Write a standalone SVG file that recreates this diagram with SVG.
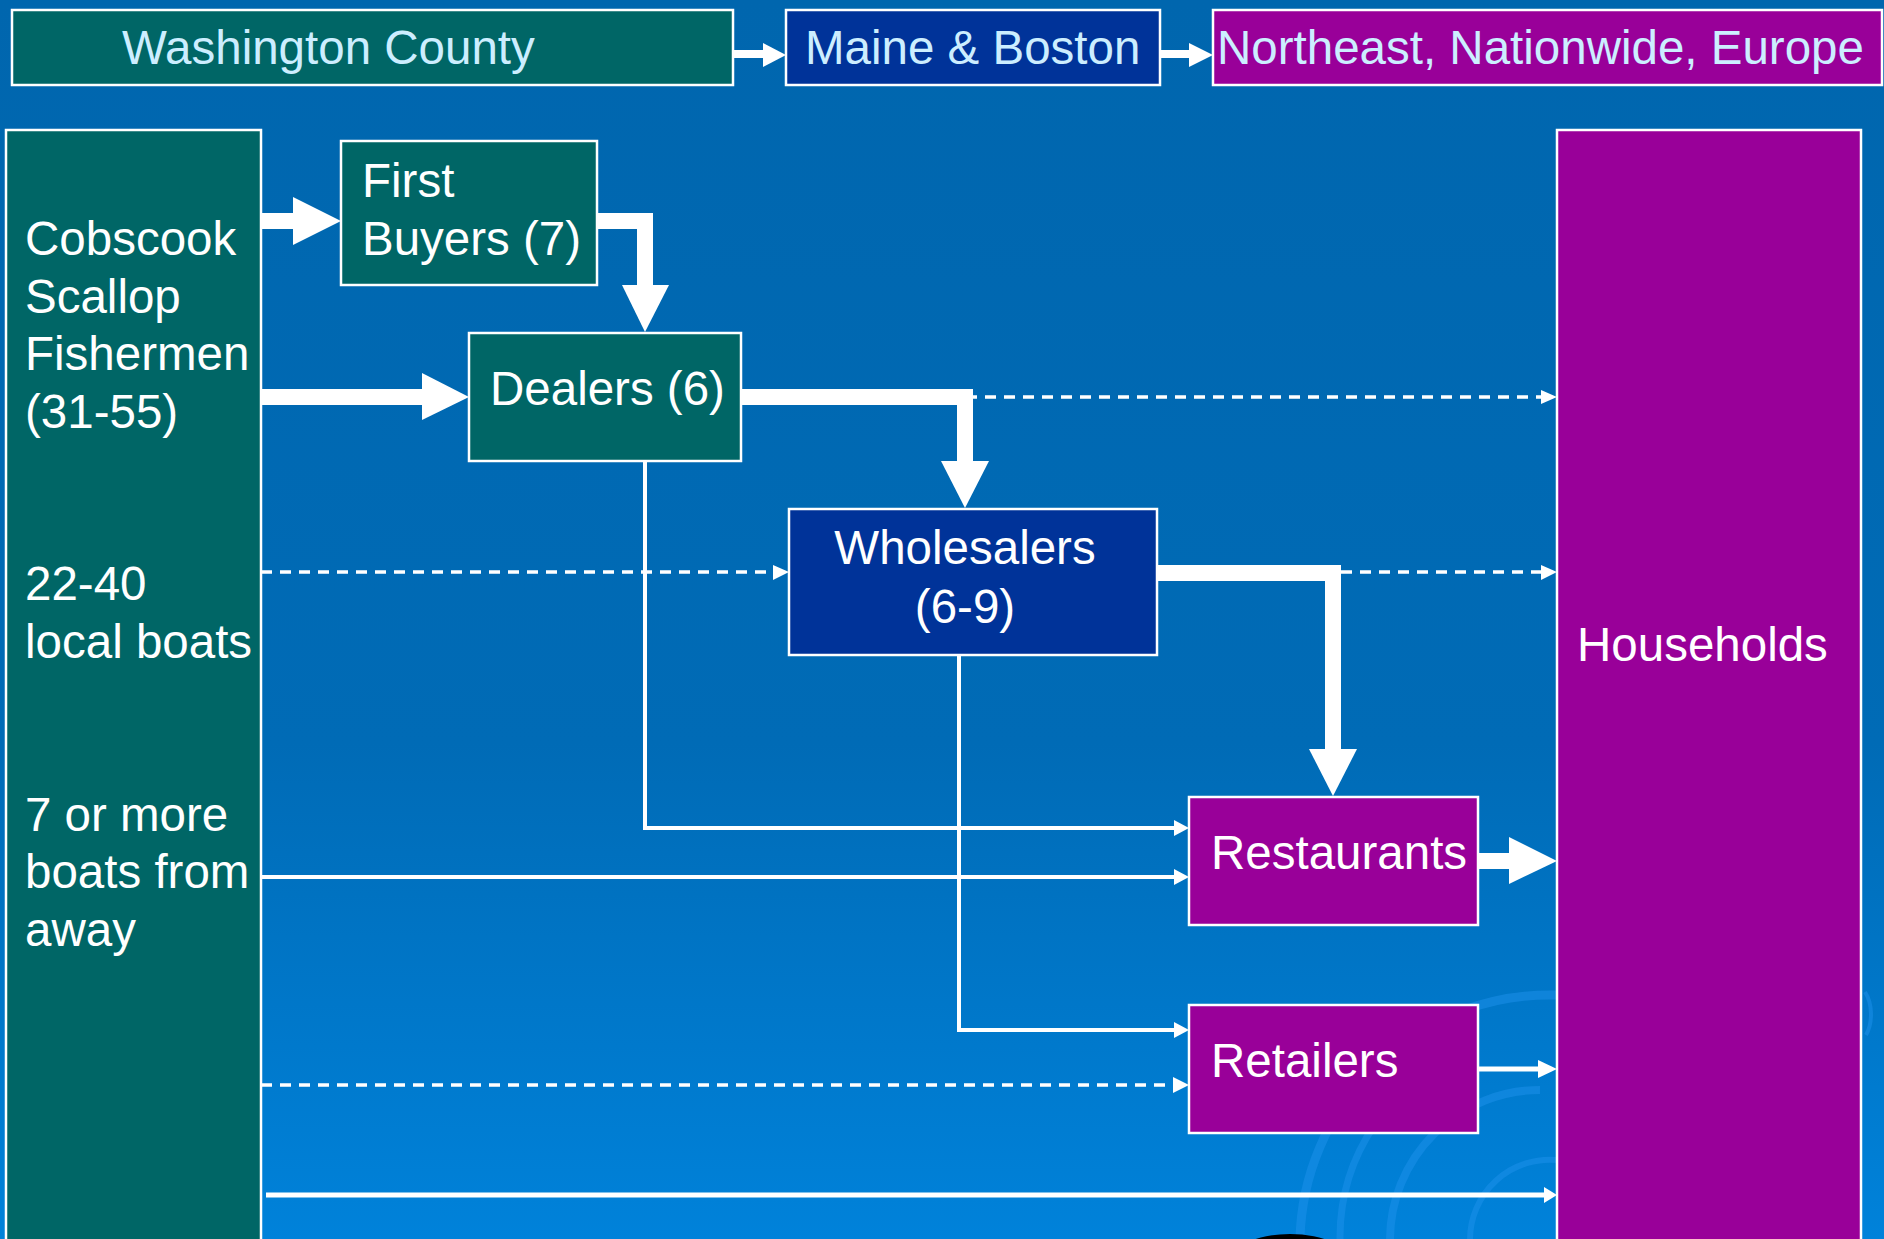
<svg xmlns="http://www.w3.org/2000/svg" width="1884" height="1239" viewBox="0 0 1884 1239">
<defs>
<linearGradient id="bg" x1="0" y1="0" x2="0" y2="1">
<stop offset="0" stop-color="#0066AE"/>
<stop offset="0.6" stop-color="#006BB6"/>
<stop offset="1" stop-color="#0082DA"/>
</linearGradient>
<style>
.box{stroke:#FFFFFF;stroke-width:2.5}
.teal{fill:#006666}
.navy{fill:#003399}
.purple{fill:#990099}
.t{font-family:"Liberation Sans",Arial,sans-serif;font-size:47.5px;fill:#FFFFFF}
.tl{font-family:"Liberation Sans",Arial,sans-serif;font-size:47.5px;fill:#CCEEFF}
.thick{fill:none;stroke:#FFFFFF;stroke-width:16;stroke-linejoin:miter}
.thin{fill:none;stroke:#FFFFFF;stroke-width:4}
.dash{fill:none;stroke:#FFFFFF;stroke-width:3.5;stroke-dasharray:11 8}
.head{fill:#FFFFFF}
.swirl{fill:none;stroke:#1E92EC;stroke-opacity:0.5}
</style>
</defs>
<rect x="0" y="0" width="1884" height="1239" fill="url(#bg)"/>
<g id="background-decor">
<path class="swirl" stroke-width="8" d="M1390 1239 A150 150 0 0 1 1540 1090"/>
<path class="swirl" stroke-width="7" d="M1340 1239 A200 200 0 0 1 1470 1050"/>
<path class="swirl" stroke-width="9" d="M1300 1239 A250 250 0 0 1 1557 995"/>
<path class="swirl" stroke-width="6" d="M1470 1239 A80 80 0 0 1 1557 1160"/>
<path class="swirl" stroke-width="4" d="M1865 992 A18 30 0 0 1 1866 1035"/>
<ellipse cx="1290" cy="1264" rx="62" ry="30" fill="#000000"/>
</g>
<g id="node-washington-county">
<rect class="box teal" x="12" y="10" width="721" height="75"/>
<text class="tl" x="122" y="64">Washington County</text>
</g>
<g id="node-maine-boston">
<rect class="box navy" x="786" y="10" width="374" height="75"/>
<text class="tl" x="805" y="64">Maine &amp; Boston</text>
</g>
<g id="node-northeast">
<rect class="box purple" x="1213" y="10" width="669" height="75"/>
<text class="tl" x="1217" y="64">Northeast, Nationwide, Europe</text>
</g>
<g id="node-fishermen">
<rect class="box teal" x="6" y="130" width="255" height="1120"/>
<text class="t" x="25" y="255">Cobscook</text>
<text class="t" x="25" y="313">Scallop</text>
<text class="t" x="25" y="370">Fishermen</text>
<text class="t" x="25" y="428">(31-55)</text>
<text class="t" x="25" y="600">22-40</text>
<text class="t" x="25" y="658">local boats</text>
<text class="t" x="25" y="831">7 or more</text>
<text class="t" x="25" y="888">boats from</text>
<text class="t" x="25" y="946">away</text>
</g>
<g id="node-first-buyers">
<rect class="box teal" x="341" y="141" width="256" height="144"/>
<text class="t" x="362" y="197">First</text>
<text class="t" x="362" y="255">Buyers (7)</text>
</g>
<g id="node-dealers">
<rect class="box teal" x="469" y="333" width="272" height="128"/>
<text class="t" x="490" y="405">Dealers (6)</text>
</g>
<g id="node-wholesalers">
<rect class="box navy" x="789" y="509" width="368" height="146"/>
<text class="t" x="965" y="564" text-anchor="middle">Wholesalers</text>
<text class="t" x="965" y="623" text-anchor="middle">(6-9)</text>
</g>
<g id="node-restaurants">
<rect class="box purple" x="1189" y="797" width="289" height="128"/>
<text class="t" x="1211" y="869">Restaurants</text>
</g>
<g id="node-retailers">
<rect class="box purple" x="1189" y="1005" width="289" height="128"/>
<text class="t" x="1211" y="1077">Retailers</text>
</g>
<g id="node-households">
<rect class="box purple" x="1557" y="130" width="304" height="1120"/>
<text class="t" x="1577" y="661">Households</text>
</g>
<g id="connectors">
<path d="M733 54 H765" fill="none" stroke="#FFFFFF" stroke-width="8"/>
<polygon class="head" points="763,43 786,55 763,67"/>
<path d="M1160 54 H1191" fill="none" stroke="#FFFFFF" stroke-width="8"/>
<polygon class="head" points="1189,43 1213,55 1189,67"/>
<path class="thick" d="M261 221 H295"/>
<polygon class="head" points="293,197 341,221 293,245"/>
<path class="thick" d="M597 221 H645 V287"/>
<polygon class="head" points="622,285 645,332 669,285"/>
<path class="thick" d="M261 397 H424"/>
<polygon class="head" points="422,373 469,397 422,420"/>
<path class="thick" d="M741 397 H965 V463"/>
<polygon class="head" points="941,461 965,508 989,461"/>
<path class="thick" d="M1157 573 H1333 V751"/>
<polygon class="head" points="1309,749 1333,796 1357,749"/>
<path class="thick" d="M1478 861 H1511"/>
<polygon class="head" points="1509,837 1557,861 1509,884"/>
<path class="thin" d="M645 461 V828 H1176"/>
<polygon class="head" points="1174,820 1189,828 1174,836"/>
<path class="thin" d="M261 877 H1176"/>
<polygon class="head" points="1174,869 1189,877 1174,885"/>
<path class="thin" d="M959 655 V1030 H1176"/>
<polygon class="head" points="1174,1022 1189,1030 1174,1038"/>
<path d="M1478 1069 H1540" fill="none" stroke="#FFFFFF" stroke-width="5"/>
<polygon class="head" points="1538,1060 1557,1069 1538,1078"/>
<path d="M266 1195 H1546" fill="none" stroke="#FFFFFF" stroke-width="5"/>
<polygon class="head" points="1544,1187 1557,1195 1544,1203"/>
<path class="dash" d="M261 572 H775"/>
<polygon class="head" points="773,565 789,572 773,580"/>
<path class="dash" d="M966 397 H1543"/>
<polygon class="head" points="1541,390 1557,397 1541,404"/>
<path class="dash" d="M1341 572 H1543"/>
<polygon class="head" points="1541,565 1557,572 1541,580"/>
<path class="dash" d="M261 1085 H1175"/>
<polygon class="head" points="1173,1077 1189,1085 1173,1093"/>
</g>
</svg>
